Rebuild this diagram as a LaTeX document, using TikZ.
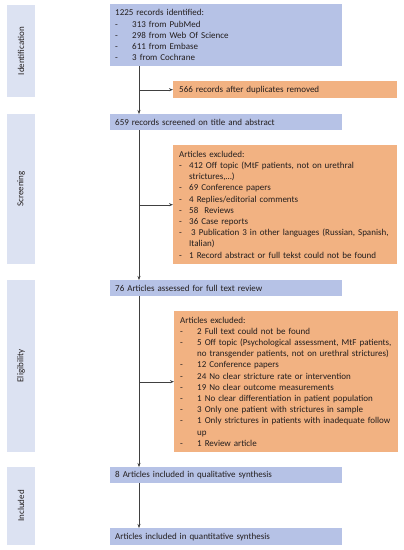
\documentclass[tikz,border=0pt]{standalone}
\usepackage{fontspec}
\setmainfont{Carlito}
\usepackage{tikz}
\usetikzlibrary{arrows.meta, positioning}
\usepackage{xcolor}
\definecolor{lightphasebox}{RGB}{220,226,242}
\definecolor{lightbluebox}{RGB}{182,194,230}
\definecolor{lightorangebox}{RGB}{242,178,130}
\definecolor{textdark}{RGB}{35,30,30}
\newcommand{\pitem}[2]{\makebox[#1][l]{-}\mbox{#2}}
\tikzset{
  basebox/.style={
    rectangle, align=left, anchor=north west, text=textdark,
    font=\fontsize{9}{11.2}\selectfont, inner xsep=5pt, inner ysep=1pt
  },
  stagebox/.style={basebox, fill=lightbluebox, text width=222pt},
  excludebox/.style={basebox, fill=lightorangebox, text width=212pt, inner xsep=6pt},
  phasebar/.style={rectangle, fill=lightphasebox, rotate=90, minimum height=28pt,
    text=textdark, font=\fontsize{9}{10}\selectfont},
  arrow/.style={-{Stealth[length=4pt,width=3pt]}, thin, color=black!75}
}
\begin{document}
\begin{tikzpicture}[x=1pt,y=-1pt]
  \useasboundingbox (0,0) rectangle (404,550);
  % phase bars
  \node[phasebar, minimum width=92pt] (identbar) at (21,51) {Identification};
  \node[phasebar, minimum width=150pt] (screenbar) at (21,189) {Screening};
  \node[phasebar, minimum width=172pt] (eligbar) at (21,366) {Eligibility};
  \node[phasebar, minimum width=78pt] (inclbar) at (21,506) {Included};
  % main flow
  \node[stagebox, minimum height=62pt] (identified) at (110,4) {1225 records identified:\\
    \pitem{17pt}{313 from PubMed}\\
    \pitem{17pt}{298 from Web Of Science}\\
    \pitem{17pt}{611 from Embase}\\
    \pitem{17pt}{3 from Cochrane}};
  \node[stagebox, minimum height=16pt] (screened) at (110,114) {659 records screened on title and abstract};
  \node[stagebox, minimum height=16pt] (assessed) at (110,280) {76 Articles assessed for full text review};
  \node[stagebox, minimum height=16pt] (qualit) at (110,467) {8 Articles included in qualitative synthesis};
  \node[stagebox, minimum height=17pt] (quantit) at (110,528) {Articles included in quantitative synthesis};
  % exclusions
  \node[excludebox, minimum height=17pt] (dupes) at (173,81) {566 records after duplicates removed};
  \node[excludebox, minimum height=119pt] (screenout) at (173,145) {Articles excluded:\\
    \pitem{10pt}{412 Off topic (MtF patients, not on urethral}\\
    \hspace*{10pt}strictures,\dots)\\
    \pitem{10pt}{69 Conference papers}\\
    \pitem{10pt}{4 Replies/editorial comments}\\
    \pitem{10pt}{58\ \ Reviews}\\
    \pitem{10pt}{36 Case reports}\\
    \pitem{10pt}{\hspace{2pt}3\ Publication 3 in other languages (Russian, Spanish,}\\
    \hspace*{10pt}Italian)\\
    \pitem{10pt}{1 Record abstract or full tekst could not be found}};
  \node[excludebox, minimum height=141pt] (eligout) at (174,311) {Articles excluded:\\
    \pitem{17pt}{2 Full text could not be found}\\
    \pitem{17pt}{5 Off topic (Psychological assessment, MtF patients,}\\
    \hspace*{17pt}no transgender patients, not on urethral strictures)\\
    \pitem{17pt}{12 Conference papers}\\
    \pitem{17pt}{24 No clear stricture rate or intervention}\\
    \pitem{17pt}{19 No clear outcome measurements}\\
    \pitem{17pt}{1 No clear differentiation in patient population}\\
    \pitem{17pt}{3 Only one patient with strictures in sample}\\
    \pitem{17pt}{1 Only strictures in patients with inadequate follow}\\
    \hspace*{17pt}up\\
    \pitem{17pt}{1 Review article}};
  % connectors
  \coordinate (spine) at (139,0);
  \draw[arrow] (identified.south -| spine) -- (screened.north -| spine);
  \draw[arrow] (screened.south -| spine) -- (assessed.north -| spine);
  \draw[arrow] (assessed.south -| spine) -- (qualit.north -| spine);
  \draw[arrow] (qualit.south -| spine) -- (quantit.north -| spine);
  \draw[arrow] (dupes.west -| spine) -- (dupes.west);
  \draw[arrow] (screenout.west -| spine) -- (screenout.west);
  \draw[arrow] (eligout.west -| spine) -- (eligout.west);
\end{tikzpicture}
\end{document}
